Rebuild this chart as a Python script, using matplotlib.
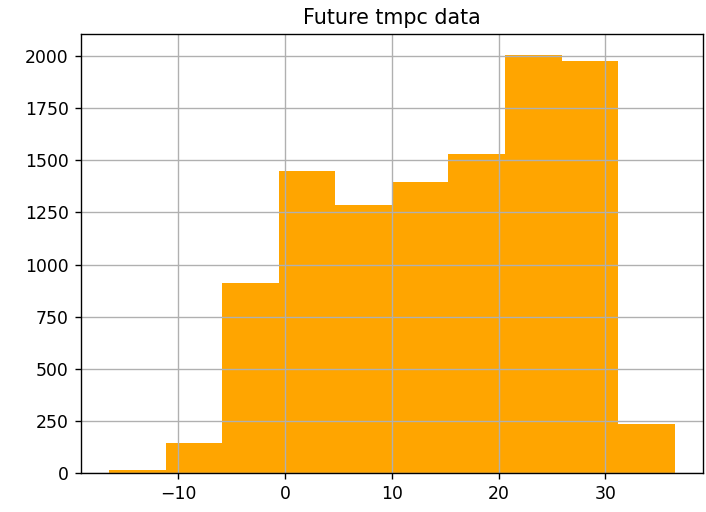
import numpy as np
import matplotlib
matplotlib.use("Agg")
import matplotlib.pyplot as plt

# histogram of future tmpc values: 10 equal-width bins
bin_lo = -16.5
bin_hi = 36.5
n_bins = 10
counts = [13, 144, 913, 1447, 1284, 1397, 1533, 2007, 1978, 235]

edges = np.linspace(bin_lo, bin_hi, n_bins + 1)

dpi = 124
fig = plt.figure(figsize=(706 / dpi, 512 / dpi), dpi=dpi)
ax = fig.add_axes([0.1143, 0.0768, 0.9958 - 0.1143, 0.9336 - 0.0768])
ax.hist(edges[:-1], bins=edges, weights=counts, color="orange")
ax.grid(True)
ax.set_title("Future tmpc data")

fig.savefig("out.png", dpi=dpi)
